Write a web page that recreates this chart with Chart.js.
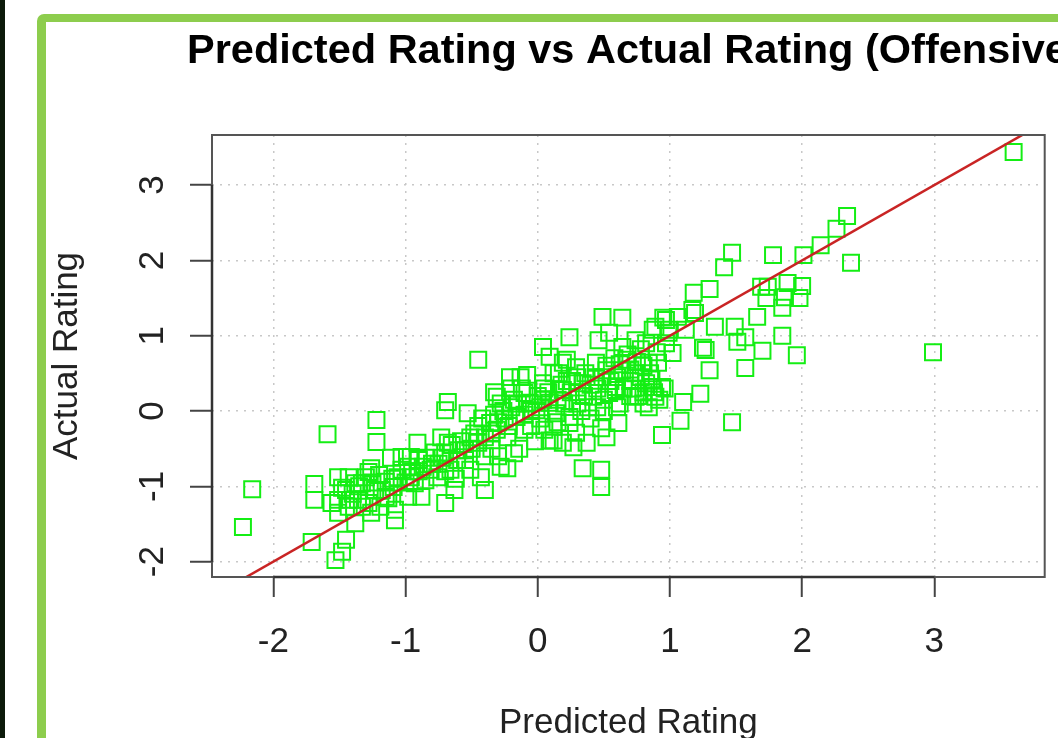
<!DOCTYPE html>
<html>
<head>
<meta charset="utf-8">
<script src="https://cdn.jsdelivr.net/npm/chart.js@4.4.1/dist/chart.umd.min.js"></script>
<style>
  html, body { margin: 0; padding: 0; background: #fff; }
  #wrap { width: 1058px; height: 738px; position: relative; }
</style>
</head>
<body>
<div id="wrap"><canvas id="chart"></canvas></div>
<script>
// Predicted vs actual rating
const predicted = [
  -2.23, -2.16, -1.59, -1.71, -1.69, -1.69, -1.22, -1.22, -0.91, -0.45,
  2.99, 3.60, 2.34, 2.26, 2.14, 2.01, 1.78, 1.47, 1.41, 2.37,
  1.30, 1.18, 1.69, 1.74, 1.89, 2.00, 1.87, 1.98, 1.85, 1.66,
  1.73, 1.96, 1.85, 1.70, 1.57, 1.30, 1.25, 1.47, 1.23, 1.10,
  1.08, 0.94, 0.61, 0.48, 0.48, 0.48, 0.34, 1.49, 1.51, 1.34,
  1.57, 1.17, 1.06, 0.97, 0.87, 0.99, 1.12, 0.97, 1.02, 0.49,
  0.64, 0.95, 1.19, 1.27, 0.04, 0.24, 0.46, 0.54, 0.37, 0.12,
  0.87, 0.94, 0.89, 0.74, 0.59, 0.54, -0.33, -0.13, -0.08, -0.68,
  -0.70, -0.53, -0.96, -1.03, -0.18, -0.23, -0.40, -0.70, 0.19, 0.09,
  0.19, 0.29, 0.34, 0.19, 0.09, 0.14, 0.24, 0.09, 0.29, 0.52,
  0.59, 0.52, 0.64, 0.44, -0.06, 0.04, -0.10, -0.21, -0.16, -0.31,
  -0.23, -0.36, -0.40, -0.51, -0.43, -0.51, -0.55, -0.61, -0.66, -0.76,
  -0.81, -0.85, -0.93, -0.73, -0.68, -0.63, -0.88, -0.98, -1.06, -1.15,
  -1.23, -1.26, -1.30, -1.38, -1.43, -1.45, -1.51, -1.43, -1.36, -1.38,
  -1.28, -1.19, -1.15, -1.26, -1.08, -1.08, -1.53, -1.48, -1.45, -1.51,
  -1.56, -1.42, -1.33, -1.28, -1.51, -1.48, -1.18, -1.11, -1.03, -0.87,
  -1.09, -1.13, -0.98, -0.96, -1.33, -0.31, -0.28, -0.14, 0.04, 0.16,
  0.22, 0.42, 0.49, 0.67, 0.74, 0.82, 0.84, 0.91, 0.64, 0.74,
  0.89, 0.99, -0.01, -0.10, 0.12, 0.24, 0.27,
  -0.85, -0.78, -0.72, -0.65, -0.60, -0.55, -0.50, -0.45, -0.80, -0.70,
  -0.62, -0.90, -0.35, -0.30, -0.25, -0.20, -0.15, -0.10, -0.05, 0.00,
  -0.28, -0.20, -0.12, -0.35, -0.40, -0.30, -0.45, -0.05, 0.02, 0.05,
  -0.22, 0.15, 0.20, 0.25, 0.30, 0.35, 0.40, 0.45, 0.50, 0.55,
  0.60, 0.65, 0.70, 0.30, 0.22, 0.12, 0.40, 0.33, 0.45, 0.60,
  0.70, 0.78, 0.80, 0.85, 0.75, 0.68, 0.58, 0.72, 0.76, 0.80,
  0.84, 0.88, 0.92, 0.96, 0.86, 0.78, 0.82, 0.90,
  -1.40, -1.35, -1.25, -1.20, -1.10, -1.00, -0.95, -0.90, -0.75, -0.70,
  -0.58, -0.48, -0.42, -0.33, -0.26, -0.18, -0.08, 0.02, 0.08, 0.18,
  0.26, 0.36, 0.44, 0.52, 0.62, 0.70, 0.80, 0.30, 0.38, 0.50,
  0.62, 0.05, -0.02, 0.15
];
const actual = [
  -1.54, -1.04, -0.31, -1.74, -0.97, -1.18, -0.12, -0.41, -0.42, 0.68,
  0.78, 3.44, 2.59, 2.42, 2.20, 2.07, 2.07, 2.10, 1.91, 1.97,
  1.62, 1.57, 1.65, 1.65, 1.70, 1.66, 1.51, 1.50, 1.37, 1.25,
  1.50, 0.74, 1.00, 0.80, 0.57, 0.54, 0.84, -0.15, 0.23, 0.12,
  -0.13, -0.32, -0.16, -0.23, -0.78, -1.01, -0.76, 1.12, 0.92, 1.12,
  0.98, 1.34, 1.25, 1.21, 1.08, 1.08, 1.08, 0.90, 0.77, 1.25,
  1.24, 1.24, 1.30, 0.81, 0.85, 0.98, 0.94, 1.04, -0.42, -0.39,
  0.32, 0.32, 0.19, 0.19, 0.32, 0.24, 0.25, 0.45, 0.48, 0.12,
  0.01, -0.03, -0.61, -0.61, -0.56, -0.76, -1.05, -1.22, -0.42, 0.72,
  0.64, 0.58, 0.37, 0.28, 0.11, -0.03, -0.08, -0.39, -0.29, -0.35,
  0.28, 0.54, 0.54, 0.64, 0.11, 0.15, 0.24, 0.45, -0.08, -0.25,
  -0.35, -0.16, -0.35, -0.35, -0.88, -0.78, -0.52, -0.65, -0.78, -0.88,
  -0.78, -0.92, -0.96, -0.35, -0.42, -1.05, -1.14, -0.74, -0.88, -0.94,
  -1.05, -0.76, -0.88, -0.96, -0.88, -1.05, -1.18, -1.27, -1.18, -1.49,
  -1.22, -1.27, -1.14, -1.35, -1.45, -1.31, -1.98, -1.87, -1.71, -1.35,
  -1.22, -1.18, -0.96, -0.81, -0.88, -1.02, -1.05, -0.62, -0.78, -0.74,
  -1.01, -1.16, -1.14, -0.88, -1.27, 0.19, -0.74, -0.50, 0.37, 0.50,
  0.68, 0.19, 0.45, 0.68, 0.50, 0.37, 0.64, 0.64, 0.85, 0.94,
  1.12, 1.04, 0.01, -0.25, -0.21, -0.16, -0.48,
  -0.62, -0.55, -0.62, -0.45, -0.52, -0.65, -0.50, -0.42, -0.70, -0.80,
  -0.90, -0.80, -0.30, -0.15, -0.10, 0.05, 0.10, -0.05, 0.00, 0.20,
  0.10, 0.30, 0.30, -0.50, -0.60, -0.60, -0.20, -0.20, -0.10, 0.30,
  -0.20, 0.15, 0.10, 0.25, 0.10, 0.20, 0.35, 0.30, 0.15, 0.40,
  0.45, 0.30, 0.40, 0.45, 0.40, 0.50, -0.10, 0.00, 0.05, 0.05,
  0.20, 0.45, 0.25, 0.50, 0.65, 0.75, 0.70, 0.30, 0.20, 0.10,
  0.05, 0.25, 0.15, 0.30, 0.42, 0.82, 0.90, 0.78,
  -1.10, -1.00, -0.95, -0.85, -0.90, -0.95, -0.80, -0.65, -0.70, -0.55,
  -0.40, -0.30, -0.10, -0.05, 0.00, 0.15, 0.10, 0.05, 0.25, 0.35,
  0.40, 0.50, 0.45, 0.60, 0.62, 0.55, 0.60, 0.25, 0.05, 0.00,
  0.10, -0.25, -0.40, -0.15
];
// reference line y = x
const lineX = [-2.6, 3.9];
const lineY = [-2.6, 3.9];
const tickValues = [-2, -1, 0, 1, 2, 3];

const FONT = 'Liberation Sans, Arial, Helvetica, sans-serif';

// page frame, title, box, rotated y tick labels
const framePlugin = {
  id: 'frame',
  beforeDraw(chart) {
    const ctx = chart.ctx;
    ctx.save();
    ctx.fillStyle = '#ffffff';
    ctx.fillRect(0, 0, chart.width, chart.height);
    ctx.fillStyle = '#0c1a0a';
    ctx.fillRect(0, 0, 5, chart.height);
    ctx.fillStyle = '#8dcd4d';
    ctx.beginPath();
    ctx.roundRect(37, 14, chart.width, chart.height, 7);
    ctx.fill();
    ctx.fillStyle = '#ffffff';
    ctx.fillRect(46, 22, chart.width, chart.height);
    ctx.restore();
  },
  afterDraw(chart) {
    const ctx = chart.ctx;
    const a = chart.chartArea;
    const xs = chart.scales.x, ys = chart.scales.y;
    ctx.save();
    // title
    ctx.fillStyle = '#000';
    ctx.font = 'bold 41.5px ' + FONT;
    ctx.textAlign = 'left';
    ctx.textBaseline = 'alphabetic';
    ctx.fillText('Predicted Rating vs Actual Rating (Offensive)', 187, 63);
    // box
    ctx.strokeStyle = '#555';
    ctx.lineWidth = 2;
    ctx.strokeRect(a.left, a.top, a.right - a.left, a.bottom - a.top);
    // axis lines spanning the tick range
    ctx.strokeStyle = '#333';
    ctx.lineWidth = 2.5;
    ctx.beginPath();
    ctx.moveTo(xs.getPixelForValue(tickValues[0]), a.bottom);
    ctx.lineTo(xs.getPixelForValue(tickValues[tickValues.length - 1]), a.bottom);
    ctx.moveTo(a.left, ys.getPixelForValue(tickValues[0]));
    ctx.lineTo(a.left, ys.getPixelForValue(tickValues[tickValues.length - 1]));
    ctx.stroke();
    // rotated y tick labels
    ctx.font = '35px ' + FONT;
    ctx.fillStyle = '#222';
    ctx.textAlign = 'center';
    ctx.textBaseline = 'alphabetic';
    ys.ticks.forEach(t => {
      const py = ys.getPixelForValue(t.value);
      ctx.save();
      ctx.translate(163, py);
      ctx.rotate(-Math.PI / 2);
      ctx.fillText(String(t.value), 0, 0);
      ctx.restore();
    });
    ctx.restore();
  }
};

new Chart(document.getElementById('chart'), {
  type: 'scatter',
  data: {
    datasets: [
      {
        type: 'line',
        data: lineX.map((x, i) => ({ x, y: lineY[i] })),
        borderColor: '#c92424',
        borderWidth: 2.5,
        pointRadius: 0,
        fill: false
      },
      {
        data: predicted.map((x, i) => ({ x, y: actual[i] })),
        pointStyle: 'rect',
        pointRadius: 11.3,
        borderColor: '#14ee14',
        backgroundColor: 'rgba(0,0,0,0)',
        borderWidth: 2
      }
    ]
  },
  options: {
    responsive: true,
    maintainAspectRatio: false,
    animation: false,
    events: [],
    layout: { padding: { left: 0, top: 135, right: 5, bottom: 0 } },
    plugins: { legend: { display: false }, tooltip: { enabled: false } },
    scales: {
      x: {
        type: 'linear',
        min: -2.464,
        max: 3.835,
        afterFit: s => { s.height = 161; s.paddingLeft = 0; s.paddingRight = 0; },
        afterBuildTicks: s => { s.ticks = tickValues.map(v => ({ value: v })); },
        border: { display: false, dash: [2, 6] },
        grid: { color: '#c8c8c8', lineWidth: 1.5, tickLength: 20, tickColor: '#444', tickWidth: 2 },
        ticks: { color: '#222', padding: 28, font: { family: FONT, size: 35, lineHeight: 1 } },
        title: { display: true, text: 'Predicted Rating', color: '#222', padding: { top: 0, bottom: -3 }, font: { family: FONT, size: 35, lineHeight: 1 } }
      },
      y: {
        type: 'linear',
        min: -2.204,
        max: 3.665,
        afterFit: s => { s.width = 212; s.paddingTop = 0; s.paddingBottom = 0; },
        afterBuildTicks: s => { s.ticks = tickValues.map(v => ({ value: v })); },
        border: { display: false, dash: [2, 6] },
        grid: { color: '#c8c8c8', lineWidth: 1.5, tickLength: 22, tickColor: '#444', tickWidth: 2 },
        ticks: { display: false },
        title: { display: true, text: 'Actual Rating', color: '#222', padding: { top: 50, bottom: 0 }, font: { family: FONT, size: 35, lineHeight: 1 } }
      }
    }
  },
  plugins: [framePlugin]
});
</script>
</body>
</html>
